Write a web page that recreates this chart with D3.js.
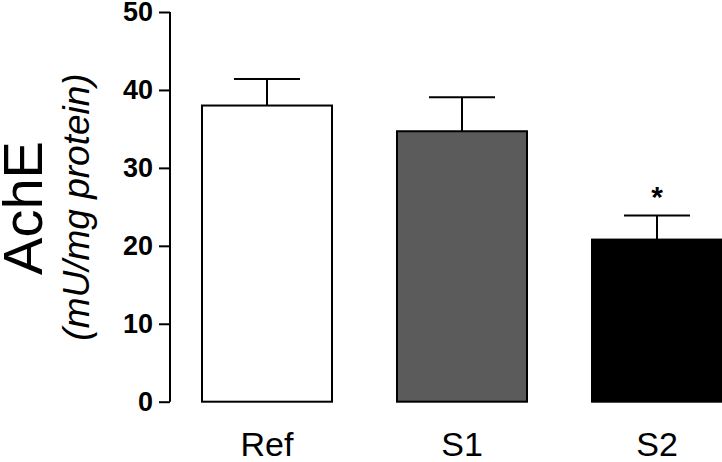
<!DOCTYPE html>
<html>
<head>
<meta charset="utf-8">
<title>AchE</title>
<script src="https://d3js.org/d3.v7.min.js"></script>
<style>
  body { margin: 0; background: #fff; }
  text { font-family: "Liberation Sans", Arial, sans-serif; }
</style>
</head>
<body>
<script>
// data
var groups = ["Ref", "S1", "S2"];
var means = [38.0, 34.7, 20.8];
var errors = [3.4, 4.35, 3.1];
var fills = ["#ffffff", "#5b5b5b", "#000000"];
var marks = ["", "", "*"];
var yTicks = [0, 10, 20, 30, 40, 50];

var width = 722, height = 462;

var svg = d3.select("body").append("svg")
    .attr("width", width)
    .attr("height", height);

// scales
var y = d3.scaleLinear().domain([0, 50]).range([401.7, 12]);
var x = d3.scaleBand().domain(groups)
    .range([104.5, 819.5])
    .paddingInner(1 / 3)
    .paddingOuter(0.5);

// y axis
var yAxis = d3.axisLeft(y).tickValues(yTicks).tickSize(11).tickPadding(6);
var gy = svg.append("g")
    .attr("transform", "translate(170,0)")
    .call(yAxis);
gy.select(".domain").attr("stroke", "#000").attr("stroke-width", 2)
    .attr("d", "M0," + y(50) + "V" + y(0));
gy.selectAll(".tick line").attr("stroke", "#000").attr("stroke-width", 2);
gy.selectAll(".tick text")
    .attr("font-size", 27)
    .attr("font-weight", "bold")
    .attr("fill", "#000");

// bars
var data = groups.map(function(g, i) {
    return {g: g, v: means[i], e: errors[i], fill: fills[i], mark: marks[i]};
});

svg.append("g").selectAll("rect")
    .data(data)
    .enter()
    .append("rect")
    .attr("x", function(d) { return x(d.g); })
    .attr("y", function(d) { return y(d.v); })
    .attr("width", x.bandwidth())
    .attr("height", function(d) { return y(0) - y(d.v); })
    .attr("fill", function(d) { return d.fill; })
    .attr("stroke", "#000")
    .attr("stroke-width", 2);

// error bars
var cap = 33;
var err = svg.append("g").selectAll("g")
    .data(data)
    .enter()
    .append("g")
    .attr("stroke", "#000")
    .attr("stroke-width", 2);
err.append("line")
    .attr("x1", function(d) { return x(d.g) + x.bandwidth() / 2; })
    .attr("x2", function(d) { return x(d.g) + x.bandwidth() / 2; })
    .attr("y1", function(d) { return y(d.v); })
    .attr("y2", function(d) { return y(d.v + d.e); });
err.append("line")
    .attr("x1", function(d) { return x(d.g) + x.bandwidth() / 2 - cap; })
    .attr("x2", function(d) { return x(d.g) + x.bandwidth() / 2 + cap; })
    .attr("y1", function(d) { return y(d.v + d.e); })
    .attr("y2", function(d) { return y(d.v + d.e); });

// significance marks
svg.append("g").selectAll("text")
    .data(data)
    .enter()
    .append("text")
    .attr("x", function(d) { return x(d.g) + x.bandwidth() / 2; })
    .attr("y", function(d) { return y(d.v + d.e) - 8; })
    .attr("text-anchor", "middle")
    .attr("font-size", 30)
    .attr("font-weight", "bold")
    .text(function(d) { return d.mark; });

// x labels
svg.append("g").selectAll("text")
    .data(groups)
    .enter()
    .append("text")
    .attr("x", function(d) { return x(d) + x.bandwidth() / 2; })
    .attr("y", 456)
    .attr("text-anchor", "middle")
    .attr("font-size", 34)
    .text(function(d) { return d; });

// y title
svg.append("text")
    .attr("transform", "translate(42,208) rotate(-90)")
    .attr("text-anchor", "middle")
    .attr("font-size", 56)
    .text("AchE");
svg.append("text")
    .attr("transform", "translate(89,207) rotate(-90)")
    .attr("text-anchor", "middle")
    .attr("font-size", 37)
    .attr("font-style", "italic")
    .text("(mU/mg protein)");
</script>
</body>
</html>
